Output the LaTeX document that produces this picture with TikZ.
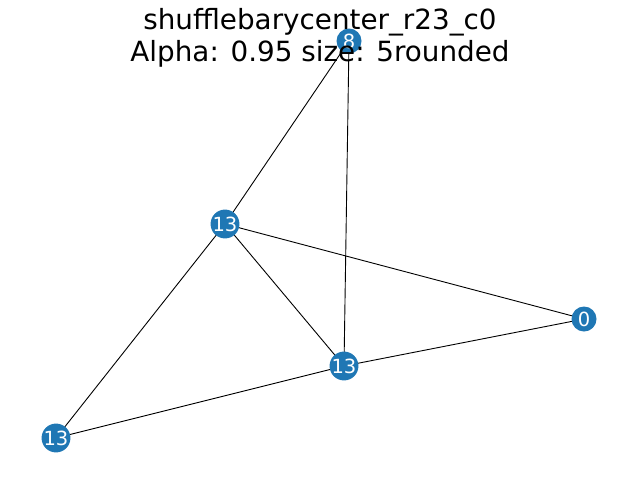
\documentclass[tikz,border=0pt]{standalone}
\usepackage{fontspec}
\setmainfont{DejaVu Sans}
\usetikzlibrary{backgrounds}
\definecolor{nblue}{HTML}{1F77B4}
\begin{document}
\begin{tikzpicture}[x=1pt,y=-1pt,
  vtx/.style={circle,fill=nblue,draw=none,minimum size=25pt,inner sep=0pt,text=white,font=\fontsize{19.5}{20}\selectfont},
  edge/.style={draw=black,line width=0.9pt}]
\useasboundingbox (0,0) rectangle (640,480);
\node[vtx] (n8) at (349,41) {8};
\node[vtx] (a) at (225,224) {13};
\node[vtx] (z) at (584,319) {0};
\node[vtx] (b) at (344,366) {13};
\node[vtx] (c) at (56,438) {13};
\begin{scope}[on background layer]
\foreach \u/\v in {n8/a,n8/b,a/z,a/b,a/c,b/z,b/c}
  \draw[edge] (\u.center) -- (\v.center);
\end{scope}
\node[font=\fontsize{27.8}{32}\selectfont,align=center] (title) at (320,38) {shufflebarycenter\_r23\_c0\\Alpha: 0.95 size: 5rounded};
\end{tikzpicture}
\end{document}
